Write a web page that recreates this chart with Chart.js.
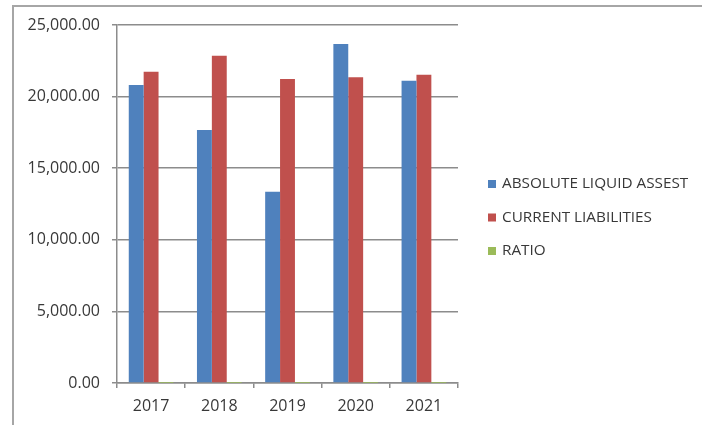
<!DOCTYPE html>
<html>
<head>
<meta charset="utf-8">
<script src="https://cdn.jsdelivr.net/npm/chart.js@4.4.0/dist/chart.umd.min.js"></script>
<style>
  html, body { margin: 0; padding: 0; background: #fff; }
  #wrap { position: relative; width: 702px; height: 425px; overflow: hidden; }
  #frame { position: absolute; left: 12px; top: 5px; width: 700px; height: 430px;
           border-left: 2px solid #a6a6a6; border-top: 2px solid #a6a6a6; }
  #myGraph { position: absolute; left: 0; top: 0; }
</style>
</head>
<body>
<div id="wrap">
  <div id="frame"></div>
  <canvas id="myGraph" width="702" height="425"></canvas>
</div>
<script>
//////////////// DATA //////////////////

const years = ["2017", "2018", "2019", "2020", "2021"];
const liquidAssets = [20810, 17670, 13360, 23670, 21110];
const currentLiabilities = [21740, 22860, 21230, 21350, 21530];
const ratio = [0.96, 0.77, 0.63, 1.11, 0.98];
const yTicks = [0, 5000, 10000, 15000, 20000, 25000];

const FONT = "'Open Sans', 'Noto Sans', sans-serif";
const TEXT = "#383838";
const GRID = "#8c8c8c";

//////////////// LEGEND (drawn beside the plot) //////////////////

const sideLegend = {
    id: "sideLegend",
    afterDraw(chart, args, opts) {
        const c = chart.ctx;
        const x = chart.chartArea.right + opts.gap;
        c.save();
        c.font = opts.size + "px " + FONT;
        c.textBaseline = "middle";
        c.textAlign = "left";
        chart.data.datasets.forEach(function (ds, i) {
            const y = opts.top + i * opts.step;
            c.fillStyle = ds.backgroundColor;
            c.fillRect(x, y - 4, 8, 8);
            c.fillStyle = TEXT;
            c.fillText(ds.label, x + 14, y);
        });
        c.restore();
    }
};

//////////////// CHART //////////////////

const ctx = document.getElementById("myGraph");

let myChart = new Chart(ctx, {
    type: "bar",
    data: {
        labels: years,
        datasets: [{
            label: "ABSOLUTE LIQUID ASSEST",
            data: liquidAssets,
            backgroundColor: "#4f81bd"
        }, {
            label: "CURRENT LIABILITIES",
            data: currentLiabilities,
            backgroundColor: "#c0504d"
        }, {
            label: "RATIO",
            data: ratio,
            backgroundColor: "#9bbb59"
        }]
    },
    options: {
        responsive: false,
        animation: false,
        datasets: {
            bar: { categoryPercentage: 0.655, barPercentage: 1.0, borderWidth: 0 }
        },
        layout: { padding: { left: 0, top: 25, right: 244, bottom: 0 } },
        plugins: {
            legend: { display: false },
            tooltip: { enabled: false },
            sideLegend: { gap: 30, top: 184, step: 33.5, size: 15.3 }
        },
        scales: {
            x: {
                z: 1,
                afterFit: function (scale) { scale.height = 42; },
                grid: { drawOnChartArea: false, drawTicks: true, tickLength: 5, color: GRID, lineWidth: 1.5, offset: true },
                border: { color: GRID, width: 1.5 },
                ticks: { color: TEXT, font: { family: FONT, size: 16 }, padding: 9 }
            },
            y: {
                min: 0,
                max: 25000,
                afterFit: function (scale) { scale.width = 117; },
                afterBuildTicks: function (scale) {
                    scale.ticks = yTicks.map(function (v) { return { value: v }; });
                },
                grid: { color: GRID, lineWidth: 1.5, tickLength: 5 },
                border: { color: GRID, width: 1.5 },
                ticks: {
                    color: TEXT,
                    font: { family: FONT, size: 16 },
                    padding: 12,
                    callback: function (v) {
                        return Number(v).toLocaleString("en-US", { minimumFractionDigits: 2, maximumFractionDigits: 2 });
                    }
                }
            }
        }
    },
    plugins: [sideLegend]
});
</script>
</body>
</html>
